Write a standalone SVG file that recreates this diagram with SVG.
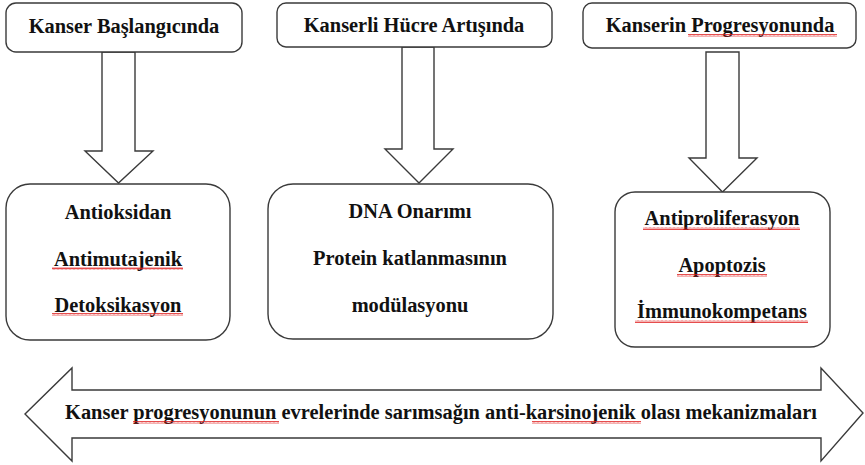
<svg xmlns="http://www.w3.org/2000/svg" width="865" height="465" viewBox="0 0 865 465">
  <style>
    .box { fill: #ffffff; stroke: #3a3a3a; stroke-width: 1.4; }
    .arrow { fill: #ffffff; stroke: #3a3a3a; stroke-width: 1.4; stroke-linejoin: miter; }
    .lbl { font-family: 'Liberation Serif', 'DejaVu Serif', serif; font-weight: 700; font-size: 20.4px; fill: #111111; text-anchor: middle; }
    .spell { fill: url(#squiggle); }
  </style>
  <defs>
    <!-- red wavy spell-check underline -->
    <pattern id="squiggle" width="4" height="3" patternUnits="userSpaceOnUse">
      <path d="M0,2.5 L1,0.5 L2,2.5 L3,0.5 L4,2.5" fill="none" stroke="#e02020" stroke-width="0.8"/>
    </pattern>
  </defs>

  <!-- connectors: block arrows -->
  <g id="connectors">
    <polygon class="arrow" points="102,52 102,151 85,151 118.5,183 153,151 135,151 135,52"/>
    <polygon class="arrow" points="402,47 402,149 385,149 419,183 453,149 434,149 434,47"/>
    <polygon class="arrow" points="706,52 706,158 689,158 722.5,192 757,158 739,158 739,52"/>
    <polygon class="arrow" points="25,414 72,368 72,390 821,390 821,368 863,413 821,461 821,438 72,438 72,461"/>
  </g>

  <!-- stage headers -->
  <g id="stage-start">
    <rect class="box" x="6" y="3" width="236" height="49" rx="10"/>
    <text class="lbl" x="124" y="33">Kanser Başlangıcında</text>
  </g>
  <g id="stage-growth">
    <rect class="box" x="277" y="3" width="275" height="44" rx="9"/>
    <text class="lbl" x="414" y="32">Kanserli Hücre Artışında</text>
  </g>
  <g id="stage-progression">
    <rect class="box" x="583" y="3" width="273" height="45" rx="9"/>
    <text class="lbl" x="720" y="32">Kanserin Progresyonunda</text>
    <rect class="spell" x="688" y="34" width="149" height="3"/>
  </g>

  <!-- mechanism boxes -->
  <g id="mech-start">
    <rect class="box" x="6" y="184" width="224" height="156" rx="24"/>
    <text class="lbl" x="118" y="219">Antioksidan</text>
    <text class="lbl" x="118" y="266">Antimutajenik</text>
    <text class="lbl" x="118" y="312">Detoksikasyon</text>
    <rect class="spell" x="52" y="267" width="131" height="3"/>
    <rect class="spell" x="52" y="313" width="131" height="3"/>
  </g>
  <g id="mech-growth">
    <rect class="box" x="268" y="184" width="285" height="155" rx="25"/>
    <text class="lbl" x="410" y="218">DNA Onarımı</text>
    <text class="lbl" x="410" y="265">Protein katlanmasının</text>
    <text class="lbl" x="410" y="312">modülasyonu</text>
  </g>
  <g id="mech-progression">
    <rect class="box" x="615" y="192" width="215" height="155" rx="20"/>
    <text class="lbl" x="722" y="225">Antiproliferasyon</text>
    <text class="lbl" x="722" y="272">Apoptozis</text>
    <text class="lbl" x="722" y="318">İmmunokompetans</text>
    <rect class="spell" x="643" y="227" width="157" height="3"/>
    <rect class="spell" x="677" y="274" width="90" height="3"/>
    <rect class="spell" x="635" y="320" width="173" height="3"/>
  </g>

  <!-- caption inside the double arrow -->
  <g id="caption">
    <text class="lbl" x="441" y="419">Kanser progresyonunun evrelerinde sarımsağın anti-karsinojenik olası mekanizmaları</text>
    <rect class="spell" x="133" y="421" width="146" height="3"/>
    <rect class="spell" x="532" y="421" width="109" height="3"/>
  </g>
</svg>
